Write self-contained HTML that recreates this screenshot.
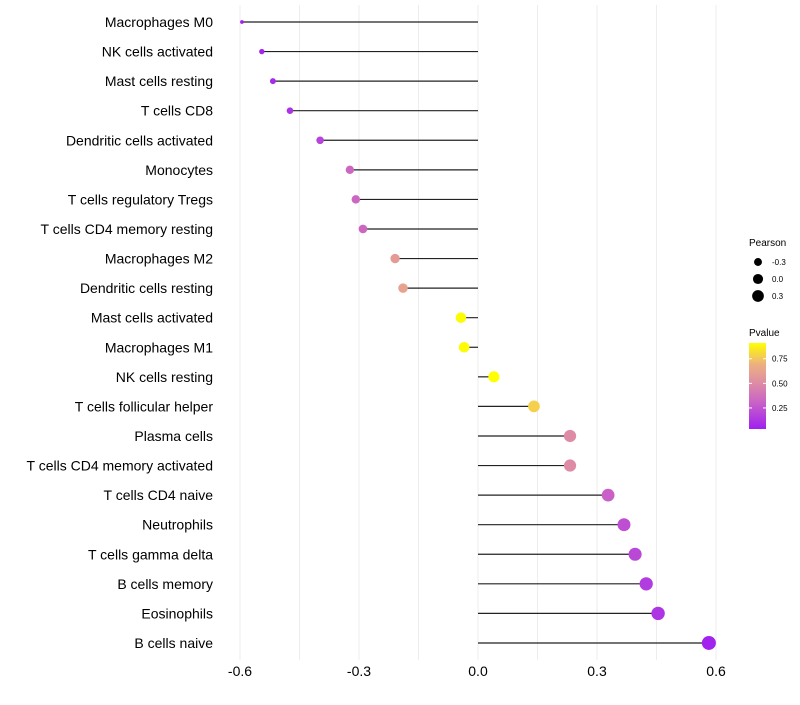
<!DOCTYPE html>
<html><head><meta charset="utf-8"><style>
body{margin:0;background:#fff;font-family:"Liberation Sans",sans-serif;}
svg text{font-family:"Liberation Sans",sans-serif;}
</style></head><body>
<svg id="chart" width="800" height="700"></svg>
<script>
const categories=["Macrophages M0","NK cells activated","Mast cells resting","T cells CD8","Dendritic cells activated","Monocytes","T cells regulatory  Tregs","T cells CD4 memory resting","Macrophages M2","Dendritic cells resting","Mast cells activated","Macrophages M1","NK cells resting","T cells follicular helper","Plasma cells","T cells CD4 memory activated","T cells CD4 naive","Neutrophils","T cells gamma delta","B cells memory","Eosinophils","B cells naive"];
const pearson=[-0.595,-0.545,-0.517,-0.474,-0.398,-0.323,-0.308,-0.29,-0.209,-0.189,-0.043,-0.035,0.04,0.141,0.232,0.232,0.328,0.368,0.396,0.424,0.454,0.582];
const pvalue=[0.04,0.06,0.08,0.11,0.18,0.33,0.33,0.33,0.58,0.62,0.9,0.9,0.91,0.78,0.5,0.5,0.3,0.23,0.2,0.15,0.12,0.05];
const xTicks=[-0.6,-0.3,0,0.3,0.6];
const xTickLabels=["-0.6","-0.3","0.0","0.3","0.6"];
const gridVals=[-0.6,-0.45,-0.3,-0.15,0,0.15,0.3,0.45,0.6];
const legendSizes=[-0.3,0,0.3];
const legendPv=[0.75,0.5,0.25];

const NS="http://www.w3.org/2000/svg";
const svg=document.getElementById('chart');
function X(v){return 478+v*396.7;}
function Y(i){return 22+i*29.57;}
function R(v){return 1.5+5.06*Math.sqrt(Math.max(0,v+0.6));}
function hex(c){return c.map(x=>Math.round(x).toString(16).padStart(2,'0')).join('');}
const stops=[[0,[160,32,240]],[0.3,[200,96,200]],[0.53,[222,140,165]],[0.75,[236,176,128]],[1,[255,255,0]]];
function col(p){
  const t=Math.max(0,Math.min(1,(p-0.036)/(0.91-0.036)));
  let k=0; while(k<stops.length-2 && t>stops[k+1][0]) k++;
  const a=stops[k],b=stops[k+1];
  const u=(t-a[0])/(b[0]-a[0]);
  return '#'+hex(a[1].map((v,j)=>v+(b[1][j]-v)*u));
}
function el(tag,at,parent){const e=document.createElementNS(NS,tag);for(const k in at)e.setAttribute(k,at[k]);(parent||svg).appendChild(e);return e;}

gridVals.forEach(v=>{
  const g=el('line',{x1:X(v),x2:X(v),y1:5,y2:660,stroke:'#ededed','stroke-width':1});
  
  
});
xTicks.forEach((v,i)=>{
  const t=el('text',{x:X(v),y:676,'text-anchor':'middle','font-size':14,fill:'#000'});
  t.textContent=xTickLabels[i];
  
  
});
categories.forEach((c,i)=>{
  const y=Y(i);
  const t=el('text',{x:213,y:y+5,'text-anchor':'end','font-size':14,fill:'#000'});
  t.textContent=c;
  
  
  const l=el('line',{x1:X(0),x2:X(pearson[i]),y1:y,y2:y,stroke:'#222','stroke-width':1.2});
  
  
  const p=el('circle',{cx:X(pearson[i]),cy:y,r:R(pearson[i]),fill:col(pvalue[i])});
  
  
});
const lt=el('text',{x:749,y:246,'font-size':10});lt.textContent='Pearson';


legendSizes.forEach((v,i)=>{
  const y=262+i*17;
  const c=el('circle',{cx:758,cy:y,r:R(v)*0.93,fill:'#000'});
  
  
  const t=el('text',{x:772,y:y+3,'font-size':8});t.textContent=(v===0?'0.0':String(v));
  
  
});
const pt=el('text',{x:749,y:336,'font-size':10});pt.textContent='Pvalue';


const defs=el('defs',{});
const grad=el('linearGradient',{id:'g',x1:0,y1:1,x2:0,y2:0},defs);
for(let k=0;k<=20;k++){el('stop',{offset:k/20,'stop-color':col(0.036+k/20*(0.91-0.036))},grad);}
const bar=el('rect',{x:749,y:343,width:17,height:86,fill:'url(#g)'});


legendPv.forEach(v=>{
  const y=429-(v-0.036)/(0.91-0.036)*86;
  el('line',{x1:749,x2:752,y1:y,y2:y,stroke:'#fff'});
  el('line',{x1:763,x2:766,y1:y,y2:y,stroke:'#fff'});
  const t=el('text',{x:772,y:y+3,'font-size':8});t.textContent=v.toFixed(2);
  
  
});
</script>
</body></html>
